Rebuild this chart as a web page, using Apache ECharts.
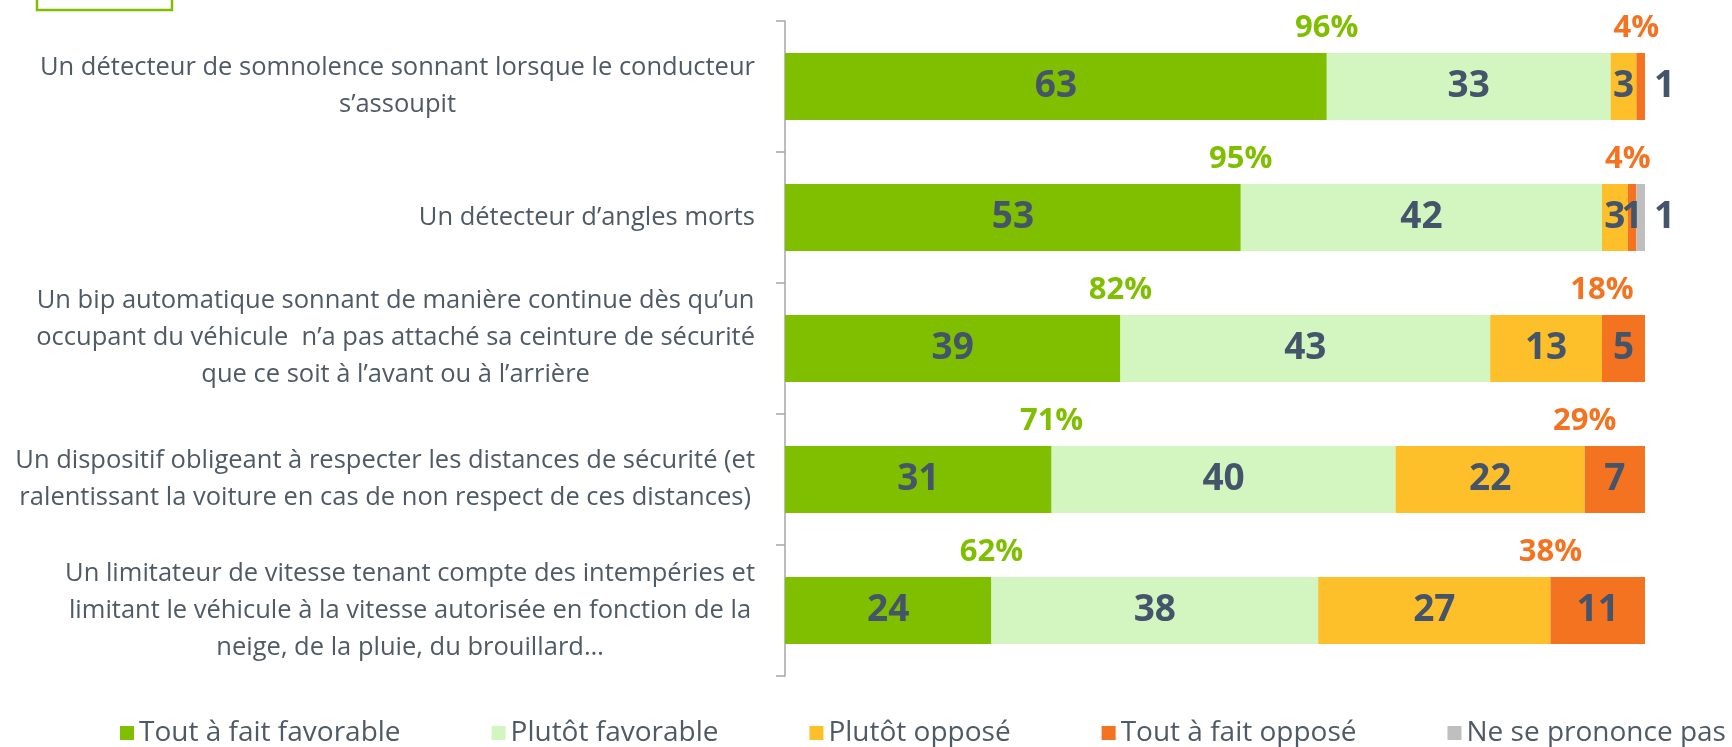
<!DOCTYPE html>
<html>
<head>
<meta charset="utf-8">
<script src="https://cdn.jsdelivr.net/npm/echarts@6/dist/echarts.min.js"></script>
<style>
  html, body { margin: 0; padding: 0; background: #fff; }
  #chart { width: 1732px; height: 747px; }
</style>
</head>
<body>
<div id="chart"></div>
<script>
// libellés des équipements
const categories = [
    'Un détecteur de somnolence sonnant lorsque le conducteur\ns’assoupit',
    'Un détecteur d’angles morts',
    'Un bip automatique sonnant de manière continue dès qu’un\noccupant du véhicule  n’a pas attaché sa ceinture de sécurité\nque ce soit à l’avant ou à l’arrière',
    'Un dispositif obligeant à respecter les distances de sécurité (et\nralentissant la voiture en cas de non respect de ces distances)',
    'Un limitateur de vitesse tenant compte des intempéries et\nlimitant le véhicule à la vitesse autorisée en fonction de la\nneige, de la pluie, du brouillard…'
];
const seriesNames = ['Tout à fait favorable', 'Plutôt favorable', 'Plutôt opposé', 'Tout à fait opposé', 'Ne se prononce pas'];
const toutFavorable = [63, 53, 39, 31, 24];
const plutotFavorable = [33, 42, 43, 40, 38];
const plutotOppose = [3, 3, 13, 22, 27];
const toutOppose = [1, 1, 5, 7, 11];
const nsp = [0, 1, 0, 0, 0];
const totalFavorable = [96, 95, 82, 71, 62]; // % favorable
const totalOppose = [4, 4, 18, 29, 38];      // % opposé

const colors = ['#7fbf00', '#d3f5c0', '#fdc02a', '#f47321', '#bfbfbf'];
const textDark = '#44546a';
const textGray = '#4f5a66';
const font = 'Open Sans';

let chart = echarts.init(document.getElementById('chart'));

// étiquette dans le segment (ou à droite si le segment est au bout et trop petit)
function items(values, outsideRows) {
    return values.map((v, i) => {
        let item = { value: v };
        if (outsideRows.includes(i)) {
            item.label = { position: 'right', distance: 9 };
        }
        return item;
    });
}

function barSeries(name, values, color, outsideRows) {
    return {
        name: name,
        type: 'bar',
        stack: 'total',
        barWidth: 67,
        itemStyle: { color: color },
        label: {
            show: true,
            position: 'inside',
            fontFamily: font,
            fontWeight: 'bold',
            fontSize: 37,
            color: textDark,
            formatter: (p) => (p.value > 0 ? p.value : '')
        },
        data: items(values, outsideRows)
    };
}

// total en haut : positionné sur la fin du segment concerné
function totalSeries(xs, totals, color) {
    return {
        type: 'scatter',
        silent: true,
        symbolSize: 2,
        itemStyle: { color: 'rgba(0,0,0,0)', opacity: 1 },
        label: {
            show: true,
            position: 'inside',
            offset: [0, -58],
            opacity: 1,
            fontFamily: font,
            fontWeight: 'bold',
            fontSize: 31,
            color: color,
            formatter: (p) => totals[p.dataIndex] + '%'
        },
        data: xs.map((x, i) => [x, i])
    };
}

let option = {
    animation: false,
    graphic: [{
        type: 'rect',
        shape: { x: 37, y: -12, width: 135, height: 22 },
        style: { fill: 'none', stroke: '#7fbf00', lineWidth: 2.5 }
    }],
    legend: {
        data: seriesNames,
        left: 115,
        top: 714,
        itemWidth: 14,
        itemHeight: 14,
        itemGap: 91,
        icon: 'rect',
        textStyle: { fontFamily: font, fontSize: 28, color: textGray }
    },
    grid: { left: 785, right: 87, top: 21, bottom: 71 },
    xAxis: {
        type: 'value',
        min: 0,
        max: 100,
        show: false
    },
    yAxis: {
        type: 'category',
        inverse: true,
        data: categories,
        axisLine: { lineStyle: { color: '#a6a6a6', width: 1.5 } },
        axisTick: { show: true, length: 9, lineStyle: { color: '#a6a6a6', width: 1.5 } },
        axisLabel: {
            margin: 30,
            align: 'right',
            formatter: (v, idx) => {
                let txt = v.split('\n').map(l => '{c|' + l + '}').join('\n');
                // le 3e libellé est légèrement remonté dans l'original
                return idx === 2 ? txt + '\n{e| }' : txt;
            },
            rich: {
                c: { align: 'center', fontFamily: font, fontSize: 25.5, lineHeight: 37, color: textGray },
                e: { fontSize: 8, lineHeight: 22 }
            }
        }
    },
    series: [
        barSeries(seriesNames[0], toutFavorable, colors[0], []),
        barSeries(seriesNames[1], plutotFavorable, colors[1], []),
        barSeries(seriesNames[2], plutotOppose, colors[2], []),
        barSeries(seriesNames[3], toutOppose, colors[3], [0]),
        barSeries(seriesNames[4], nsp, colors[4], [1]),
        totalSeries(toutFavorable, totalFavorable, colors[0]),
        totalSeries(toutFavorable.map((v, i) => v + plutotFavorable[i] + plutotOppose[i]), totalOppose, colors[3])
    ]
};
chart.setOption(option);
</script>
</body>
</html>
